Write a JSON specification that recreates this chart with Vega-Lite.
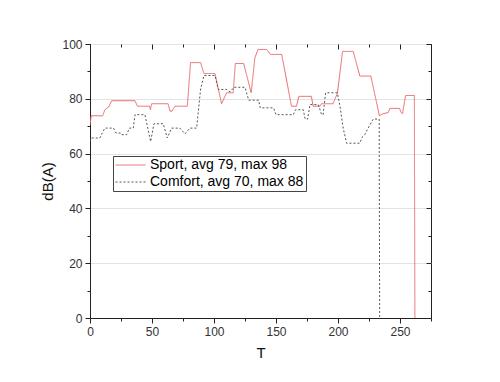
{
  "$schema": "https://vega.github.io/schema/vega-lite/v6.json",
  "autosize": "none",
  "width": 341,
  "height": 274,
  "padding": {"left": 90, "top": 44, "right": 69, "bottom": 64},
  "background": "white",
  "config": {
    "font": "Liberation Sans",
    "view": {"stroke": "#222", "strokeWidth": 1}
  },
  "data": {
    "values": [
      {"T": 0, "dB": 70.5, "series": "Sport, avg 79, max 98"},
      {"T": 1, "dB": 73.8, "series": "Sport, avg 79, max 98"},
      {"T": 10.2, "dB": 73.8, "series": "Sport, avg 79, max 98"},
      {"T": 12, "dB": 76, "series": "Sport, avg 79, max 98"},
      {"T": 15, "dB": 77, "series": "Sport, avg 79, max 98"},
      {"T": 17.5, "dB": 79.3, "series": "Sport, avg 79, max 98"},
      {"T": 36.3, "dB": 79.3, "series": "Sport, avg 79, max 98"},
      {"T": 38.2, "dB": 77.3, "series": "Sport, avg 79, max 98"},
      {"T": 48, "dB": 77.3, "series": "Sport, avg 79, max 98"},
      {"T": 48.7, "dB": 76, "series": "Sport, avg 79, max 98"},
      {"T": 49.7, "dB": 78.2, "series": "Sport, avg 79, max 98"},
      {"T": 63, "dB": 78.2, "series": "Sport, avg 79, max 98"},
      {"T": 64.5, "dB": 75.5, "series": "Sport, avg 79, max 98"},
      {"T": 66, "dB": 75.5, "series": "Sport, avg 79, max 98"},
      {"T": 68.5, "dB": 77.3, "series": "Sport, avg 79, max 98"},
      {"T": 78.5, "dB": 77.3, "series": "Sport, avg 79, max 98"},
      {"T": 81.1, "dB": 93.2, "series": "Sport, avg 79, max 98"},
      {"T": 89.2, "dB": 93.2, "series": "Sport, avg 79, max 98"},
      {"T": 91.9, "dB": 89.2, "series": "Sport, avg 79, max 98"},
      {"T": 100.8, "dB": 89.2, "series": "Sport, avg 79, max 98"},
      {"T": 106.1, "dB": 78.2, "series": "Sport, avg 79, max 98"},
      {"T": 110.2, "dB": 82.2, "series": "Sport, avg 79, max 98"},
      {"T": 115.5, "dB": 82.2, "series": "Sport, avg 79, max 98"},
      {"T": 117.2, "dB": 92.9, "series": "Sport, avg 79, max 98"},
      {"T": 123.9, "dB": 92.9, "series": "Sport, avg 79, max 98"},
      {"T": 130, "dB": 82.2, "series": "Sport, avg 79, max 98"},
      {"T": 133, "dB": 95, "series": "Sport, avg 79, max 98"},
      {"T": 135.5, "dB": 98, "series": "Sport, avg 79, max 98"},
      {"T": 142.5, "dB": 98, "series": "Sport, avg 79, max 98"},
      {"T": 145.5, "dB": 96.2, "series": "Sport, avg 79, max 98"},
      {"T": 154.6, "dB": 96.2, "series": "Sport, avg 79, max 98"},
      {"T": 162.5, "dB": 77.3, "series": "Sport, avg 79, max 98"},
      {"T": 166.5, "dB": 77.3, "series": "Sport, avg 79, max 98"},
      {"T": 168.5, "dB": 80.9, "series": "Sport, avg 79, max 98"},
      {"T": 178.5, "dB": 80.9, "series": "Sport, avg 79, max 98"},
      {"T": 180, "dB": 77.3, "series": "Sport, avg 79, max 98"},
      {"T": 185.4, "dB": 77.3, "series": "Sport, avg 79, max 98"},
      {"T": 186.7, "dB": 78.2, "series": "Sport, avg 79, max 98"},
      {"T": 196, "dB": 78.2, "series": "Sport, avg 79, max 98"},
      {"T": 199.5, "dB": 82, "series": "Sport, avg 79, max 98"},
      {"T": 203.7, "dB": 97.3, "series": "Sport, avg 79, max 98"},
      {"T": 212.3, "dB": 97.3, "series": "Sport, avg 79, max 98"},
      {"T": 217.6, "dB": 88.3, "series": "Sport, avg 79, max 98"},
      {"T": 226.5, "dB": 88.3, "series": "Sport, avg 79, max 98"},
      {"T": 233.4, "dB": 73.8, "series": "Sport, avg 79, max 98"},
      {"T": 236, "dB": 74.5, "series": "Sport, avg 79, max 98"},
      {"T": 240.5, "dB": 75, "series": "Sport, avg 79, max 98"},
      {"T": 241.8, "dB": 76.5, "series": "Sport, avg 79, max 98"},
      {"T": 249.6, "dB": 76.5, "series": "Sport, avg 79, max 98"},
      {"T": 251, "dB": 75, "series": "Sport, avg 79, max 98"},
      {"T": 252, "dB": 74.5, "series": "Sport, avg 79, max 98"},
      {"T": 254.5, "dB": 81.2, "series": "Sport, avg 79, max 98"},
      {"T": 261.6, "dB": 81.2, "series": "Sport, avg 79, max 98"},
      {"T": 262, "dB": 0, "series": "Sport, avg 79, max 98"},

      {"T": 0, "dB": 64.5, "series": "Comfort, avg 70, max 88"},
      {"T": 1, "dB": 65.7, "series": "Comfort, avg 70, max 88"},
      {"T": 8, "dB": 65.7, "series": "Comfort, avg 70, max 88"},
      {"T": 9.5, "dB": 67.2, "series": "Comfort, avg 70, max 88"},
      {"T": 12, "dB": 69.3, "series": "Comfort, avg 70, max 88"},
      {"T": 19, "dB": 69.3, "series": "Comfort, avg 70, max 88"},
      {"T": 21, "dB": 67.5, "series": "Comfort, avg 70, max 88"},
      {"T": 24.7, "dB": 67.5, "series": "Comfort, avg 70, max 88"},
      {"T": 25.5, "dB": 66.9, "series": "Comfort, avg 70, max 88"},
      {"T": 29.6, "dB": 66.9, "series": "Comfort, avg 70, max 88"},
      {"T": 31.7, "dB": 69.3, "series": "Comfort, avg 70, max 88"},
      {"T": 34.9, "dB": 69.3, "series": "Comfort, avg 70, max 88"},
      {"T": 36.3, "dB": 74.2, "series": "Comfort, avg 70, max 88"},
      {"T": 44.3, "dB": 74.2, "series": "Comfort, avg 70, max 88"},
      {"T": 48.9, "dB": 64.4, "series": "Comfort, avg 70, max 88"},
      {"T": 51.6, "dB": 70.9, "series": "Comfort, avg 70, max 88"},
      {"T": 59.1, "dB": 70.9, "series": "Comfort, avg 70, max 88"},
      {"T": 62.3, "dB": 65.7, "series": "Comfort, avg 70, max 88"},
      {"T": 65.8, "dB": 69.3, "series": "Comfort, avg 70, max 88"},
      {"T": 72.5, "dB": 69.3, "series": "Comfort, avg 70, max 88"},
      {"T": 76.6, "dB": 67.2, "series": "Comfort, avg 70, max 88"},
      {"T": 80.6, "dB": 69.3, "series": "Comfort, avg 70, max 88"},
      {"T": 86, "dB": 69.3, "series": "Comfort, avg 70, max 88"},
      {"T": 89.2, "dB": 83.6, "series": "Comfort, avg 70, max 88"},
      {"T": 91.9, "dB": 88.5, "series": "Comfort, avg 70, max 88"},
      {"T": 100.8, "dB": 88.5, "series": "Comfort, avg 70, max 88"},
      {"T": 103.4, "dB": 83.4, "series": "Comfort, avg 70, max 88"},
      {"T": 110.2, "dB": 83.4, "series": "Comfort, avg 70, max 88"},
      {"T": 113, "dB": 82.5, "series": "Comfort, avg 70, max 88"},
      {"T": 116, "dB": 84.2, "series": "Comfort, avg 70, max 88"},
      {"T": 125, "dB": 84.2, "series": "Comfort, avg 70, max 88"},
      {"T": 128, "dB": 79.5, "series": "Comfort, avg 70, max 88"},
      {"T": 136, "dB": 79.5, "series": "Comfort, avg 70, max 88"},
      {"T": 137.3, "dB": 76.7, "series": "Comfort, avg 70, max 88"},
      {"T": 148, "dB": 76.7, "series": "Comfort, avg 70, max 88"},
      {"T": 150, "dB": 74.2, "series": "Comfort, avg 70, max 88"},
      {"T": 164, "dB": 74.2, "series": "Comfort, avg 70, max 88"},
      {"T": 165.7, "dB": 76, "series": "Comfort, avg 70, max 88"},
      {"T": 172, "dB": 76, "series": "Comfort, avg 70, max 88"},
      {"T": 173.5, "dB": 72.6, "series": "Comfort, avg 70, max 88"},
      {"T": 175.5, "dB": 72.6, "series": "Comfort, avg 70, max 88"},
      {"T": 177.4, "dB": 77.9, "series": "Comfort, avg 70, max 88"},
      {"T": 184.1, "dB": 77.9, "series": "Comfort, avg 70, max 88"},
      {"T": 186.8, "dB": 74.2, "series": "Comfort, avg 70, max 88"},
      {"T": 188, "dB": 74.2, "series": "Comfort, avg 70, max 88"},
      {"T": 190, "dB": 82.2, "series": "Comfort, avg 70, max 88"},
      {"T": 199.4, "dB": 82.2, "series": "Comfort, avg 70, max 88"},
      {"T": 201.5, "dB": 77.5, "series": "Comfort, avg 70, max 88"},
      {"T": 204.2, "dB": 69.3, "series": "Comfort, avg 70, max 88"},
      {"T": 206.9, "dB": 63.8, "series": "Comfort, avg 70, max 88"},
      {"T": 217.6, "dB": 63.8, "series": "Comfort, avg 70, max 88"},
      {"T": 219.5, "dB": 66, "series": "Comfort, avg 70, max 88"},
      {"T": 221.6, "dB": 66.9, "series": "Comfort, avg 70, max 88"},
      {"T": 224.3, "dB": 69.3, "series": "Comfort, avg 70, max 88"},
      {"T": 228.4, "dB": 72.6, "series": "Comfort, avg 70, max 88"},
      {"T": 233.2, "dB": 72.6, "series": "Comfort, avg 70, max 88"},
      {"T": 233.6, "dB": 0, "series": "Comfort, avg 70, max 88"}
    ]
  },
  "layer": [
    {
      "mark": {"type": "line", "strokeWidth": 1, "clip": true},
      "encoding": {
        "x": {
          "field": "T", "type": "quantitative",
          "scale": {"domain": [0, 275], "nice": false},
          "axis": {
            "title": "T", "titleFontSize": 15, "titleFontWeight": "normal", "titleColor": "#111", "titlePadding": 8,
            "values": [0, 25, 50, 75, 100, 125, 150, 175, 200, 225, 250, 275],
            "labelExpr": "datum.value % 50 === 0 ? datum.label : ''",
            "labelFontSize": 12, "labelColor": "#333", "labelPadding": 3,
            "tickSize": {"condition": {"test": "datum.value % 50 === 0", "value": 5}, "value": 3},
            "tickColor": "#222", "domainColor": "#222", "grid": false, "labelFlush": false
          }
        },
        "y": {
          "field": "dB", "type": "quantitative",
          "scale": {"domain": [0, 100], "nice": false},
          "axis": {
            "title": "dB(A)", "titleFontSize": 15, "titleFontWeight": "normal", "titleColor": "#111", "titlePadding": 6,
            "values": [0, 10, 20, 30, 40, 50, 60, 70, 80, 90, 100],
            "labelExpr": "datum.value % 20 === 0 ? datum.label : ''",
            "labelFontSize": 12, "labelColor": "#333", "labelPadding": 3,
            "tickSize": {"condition": {"test": "datum.value % 20 === 0", "value": 5}, "value": 3},
            "tickColor": "#222", "domainColor": "#222",
            "grid": true, "gridColor": "#e3e3e3",
            "gridOpacity": {"condition": {"test": "datum.value % 20 === 0", "value": 1}, "value": 0},
            "labelFlush": false
          }
        },
        "color": {
          "field": "series", "type": "nominal",
          "scale": {"domain": ["Sport, avg 79, max 98", "Comfort, avg 70, max 88"], "range": ["#e8696b", "#555555"]},
          "legend": {
            "orient": "none", "legendX": 23, "legendY": 112, "title": null,
            "strokeColor": "#444", "fillColor": "white", "padding": 2,
            "labelFontSize": 14, "labelColor": "#000", "labelFont": "Liberation Sans",
            "symbolSize": 900, "symbolStrokeWidth": 1, "symbolType": "stroke",
            "labelOffset": 4, "rowPadding": 3, "clipHeight": 14
          }
        },
        "strokeDash": {
          "field": "series", "type": "nominal",
          "scale": {"domain": ["Sport, avg 79, max 98", "Comfort, avg 70, max 88"], "range": [[1, 0], [2, 2]]},
          "legend": {
            "orient": "none", "legendX": 23, "legendY": 112, "title": null,
            "strokeColor": "#444", "fillColor": "white", "padding": 2,
            "labelFontSize": 14, "labelColor": "#000", "labelFont": "Liberation Sans",
            "symbolSize": 900, "symbolStrokeWidth": 1, "symbolType": "stroke",
            "labelOffset": 4, "rowPadding": 3, "clipHeight": 14
          }
        }
      }
    },
    {
      "mark": {"type": "point", "opacity": 0},
      "encoding": {
        "x": {
          "field": "T", "type": "quantitative",
          "axis": {
            "orient": "top", "title": null, "labels": false, "domain": false, "grid": false,
            "values": [0, 25, 50, 75, 100, 125, 150, 175, 200, 225, 250, 275],
            "tickSize": {"condition": {"test": "datum.value % 50 === 0", "value": -5}, "value": -3},
            "tickColor": "#222"
          }
        },
        "y": {
          "field": "dB", "type": "quantitative",
          "axis": {
            "orient": "right", "title": null, "labels": false, "domain": false, "grid": false,
            "values": [0, 10, 20, 30, 40, 50, 60, 70, 80, 90, 100],
            "tickSize": {"condition": {"test": "datum.value % 20 === 0", "value": -5}, "value": -3},
            "tickColor": "#222"
          }
        }
      }
    }
  ],
  "resolve": {"axis": {"x": "independent", "y": "independent"}}
}
